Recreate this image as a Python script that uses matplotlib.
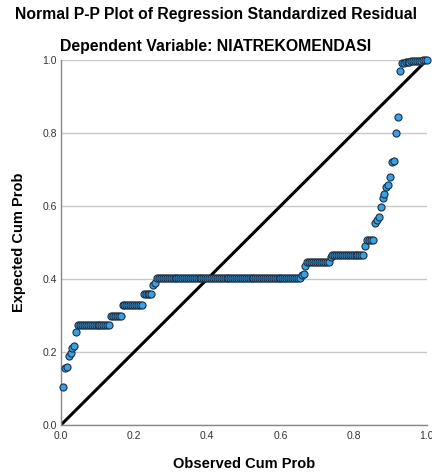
import numpy as np
import matplotlib
matplotlib.use("Agg")
import matplotlib.pyplot as plt

plt.rcParams['font.family'] = ['Liberation Sans', 'DejaVu Sans']

# Expected cum prob levels and how many residuals share each level
levels = [0.103, 0.155, 0.160, 0.189, 0.196, 0.212, 0.217, 0.254,
          0.274, 0.300, 0.329, 0.359, 0.384, 0.388,
          0.403, 0.410, 0.415, 0.436, 0.446, 0.461, 0.466, 0.491, 0.507,
          0.554, 0.562, 0.571, 0.598, 0.621, 0.632, 0.653, 0.659, 0.680,
          0.721, 0.723, 0.799, 0.843, 0.970,
          0.993, 0.995, 0.997, 0.998, 0.999]
counts = [1, 1, 1, 1, 1, 1, 1, 1,
          17, 6, 11, 5, 1, 1,
          75, 1, 1, 1, 12, 1, 17, 1, 4,
          1, 1, 1, 1, 1, 1, 1, 1, 1,
          1, 1, 1, 1, 1,
          2, 3, 3, 3, 3]

expected = np.repeat(levels, counts)
n = len(expected)
observed = np.arange(1, n + 1) / n

xticks = [0.0, 0.2, 0.4, 0.6, 0.8, 1.0]
yticks = [0.0, 0.2, 0.4, 0.6, 0.8, 1.0]

fig = plt.figure(figsize=(4.32, 4.73), dpi=100)
ax = fig.add_axes([0.141, 0.1015, 0.847, 0.7715])

ax.set_xlim(0, 1)
ax.set_ylim(0, 1)
ax.yaxis.grid(True, color='#c8c8c8', linewidth=1.0)
ax.set_axisbelow(True)

ax.plot([0, 1], [0, 1], color='black', linewidth=2.2, zorder=2)
ax.scatter(observed, expected, s=26, facecolor='#3aa0e6', edgecolor='#1b2f44',
           linewidth=0.8, zorder=3, clip_on=False)

ax.set_xticks(xticks)
ax.set_yticks(yticks)
ax.set_xticklabels([f"{t:.1f}" for t in xticks])
ax.set_yticklabels([f"{t:.1f}" for t in yticks])
ax.tick_params(axis='both', length=0, labelsize=7.5, colors='#333333')
ax.tick_params(axis='x', pad=4)
ax.tick_params(axis='y', pad=3)

for side in ['top', 'right']:
    ax.spines[side].set_visible(False)
for side in ['left', 'bottom']:
    ax.spines[side].set_color('#888888')
    ax.spines[side].set_linewidth(1.0)

ax.set_xlabel('Observed Cum Prob', fontsize=10.5, fontweight='bold', labelpad=12)
ax.set_ylabel('Expected Cum Prob', fontsize=10.5, fontweight='bold', labelpad=12)

fig.text(0.5, 1 - 14 / 473, 'Normal P-P Plot of Regression Standardized Residual',
         ha='center', va='center', fontsize=11.3, fontweight='bold')
fig.text(0.499, 1 - 46 / 473, 'Dependent Variable: NIATREKOMENDASI',
         ha='center', va='center', fontsize=11.4, fontweight='bold')

fig.savefig('out.png', dpi=100)
